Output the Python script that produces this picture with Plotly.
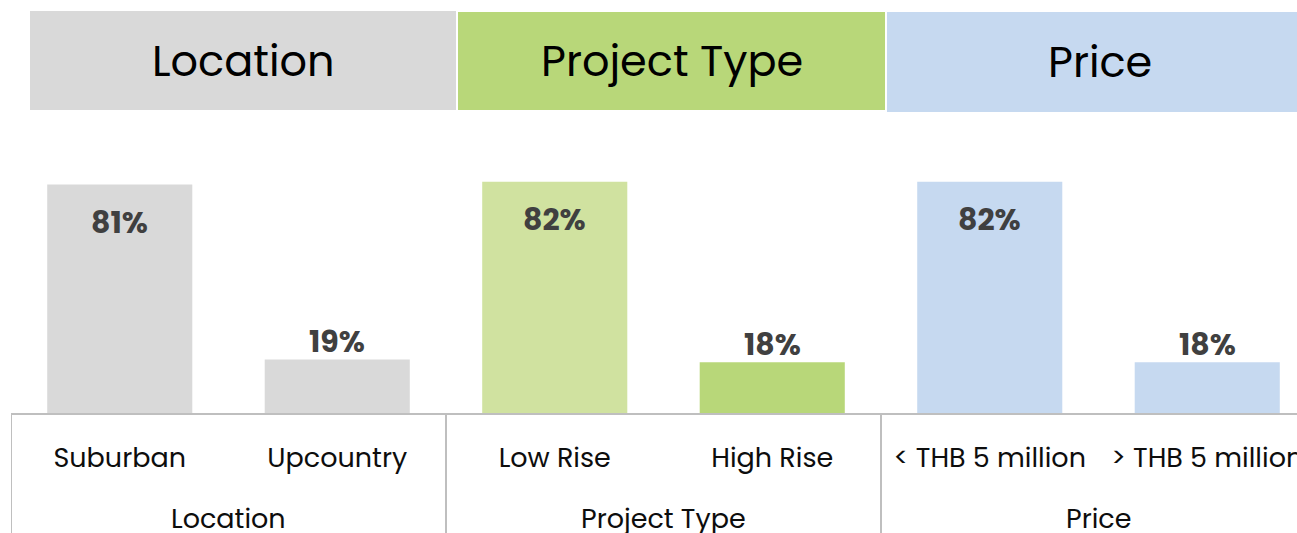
import plotly.graph_objects as go

# Données
groupes = ["Location", "Project Type", "Price"]
categories = ["Suburban", "Upcountry", "Low Rise", "High Rise",
              "< THB 5 million", "> THB 5 million"]
valeurs = [81, 19, 82, 18, 82, 18]
etiquettes = ["81%", "19%", "82%", "18%", "82%", "18%"]

# Styles
GRIS = "#D9D9D9"
VERT = "#B8D779"
VERT_CLAIR = "#D0E2A0"
BLEU = "#C6D9F0"
couleurs_barres = [GRIS, GRIS, VERT_CLAIR, VERT, BLEU, BLEU]
couleurs_entetes = [GRIS, VERT, BLEU]
POLICE = "Poppins, Inter, sans-serif"
LIGNE = "#BFBFBF"

W, H = 1297, 533
ML, MT, MB = 11, 131, 120
largeur_cat = 217.5
x_fin = -0.5 + (W - ML) / largeur_cat


def py_vers_paper(py):
    return (H - MB - py) / (H - MB - MT)


def px_vers_paper(px):
    return (px - ML) / (W - ML)


fig = go.Figure(go.Bar(
    x=categories, y=valeurs,
    marker=dict(color=couleurs_barres, line=dict(width=0)),
    hoverinfo="skip",
))

# Étiquettes de valeurs
for cat, val, txt in zip(categories, valeurs, etiquettes):
    fig.add_annotation(
        x=cat, y=val, text=f"<b>{txt}</b>", showarrow=False,
        yanchor="middle", yshift=-38 if val > 50 else 18,
        font=dict(family=POLICE, size=30, color="#404040"))

# En-têtes colorés
bords_entetes = [(30, 456, 11, 110), (458, 885, 12, 110), (887, 1313, 12, 112)]
for nom, couleur, (x0, x1, y0, y1) in zip(groupes, couleurs_entetes, bords_entetes):
    fig.add_shape(type="rect", xref="paper", yref="paper",
                  x0=px_vers_paper(x0), x1=px_vers_paper(x1),
                  y0=py_vers_paper(y1), y1=py_vers_paper(y0),
                  fillcolor=couleur, line=dict(width=0), layer="below")
    fig.add_annotation(
        xref="paper", yref="paper",
        x=px_vers_paper((x0 + x1) / 2), y=py_vers_paper((y0 + y1) / 2),
        text=nom, showarrow=False, xanchor="center", yanchor="middle",
        font=dict(family=POLICE, size=43, color="#000000"))

# Libellés de groupes et séparateurs
for i, nom in enumerate(groupes):
    fig.add_annotation(
        x=2 * i + 0.5, y=py_vers_paper(518), xref="x", yref="paper",
        text=nom, showarrow=False, yanchor="middle",
        font=dict(family=POLICE, size=27, color="#0D0D0D"))
    fig.add_shape(type="line", xref="x", yref="paper",
                  x0=2 * i - 0.5, x1=2 * i - 0.5, y0=0, y1=py_vers_paper(540),
                  line=dict(color=LIGNE, width=2))

fig.update_xaxes(
    type="category", range=[-0.5, x_fin], automargin=False,
    showline=True, linecolor=LIGNE, linewidth=2,
    showgrid=False, ticks="", ticklabelstandoff=20,
    tickfont=dict(family=POLICE, size=27, color="#0D0D0D"))
fig.update_yaxes(range=[0, 100], visible=False)

fig.update_layout(
    width=W, height=H,
    margin=dict(l=ML, r=0, t=MT, b=MB),
    bargap=0.333, showlegend=False,
    plot_bgcolor="white", paper_bgcolor="white",
)

# Pas de marge de page autour de la figure
fig.write_html(
    "out.html",
    config={"displayModeBar": False},
    post_script="document.body.style.margin='0';"
                "document.body.style.overflow='hidden';"
                "document.documentElement.style.overflow='hidden';")
